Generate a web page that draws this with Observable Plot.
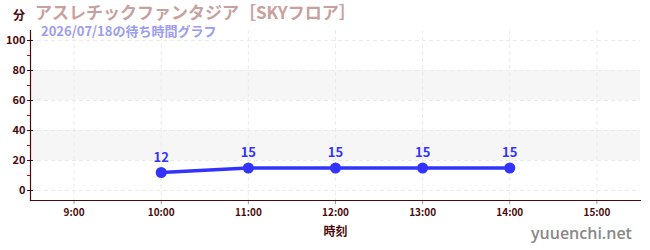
<!DOCTYPE html>
<html><head><meta charset="utf-8">
<script src="https://cdn.jsdelivr.net/npm/d3@7"></script>
<script src="https://cdn.jsdelivr.net/npm/@observablehq/plot@0.6"></script>
<style>
body{margin:0;background:#fff;font-family:"Noto Sans CJK JP","Noto Sans",sans-serif;}
#wrap{position:relative;width:650px;height:250px;overflow:hidden;}
.t{position:absolute;white-space:nowrap;font-weight:bold;line-height:1;}
</style></head>
<body><div id="wrap"></div>
<script>
const title = "アスレチックファンタジア［SKYフロア］";
const subtitle = "2026/07/18の待ち時間グラフ";
const unitLabel = "分";
const xLabel = "時刻";
const credit = "yuuenchi.net";
const hours = [10, 11, 12, 13, 14];
const waits = [12, 15, 15, 15, 15];
const xTicks = [9, 10, 11, 12, 13, 14, 15];
const yTicks = [0, 20, 40, 60, 80, 100];
const yMinor = [10, 30, 50, 70, 90];
const bands = [[20, 40], [60, 80]];
const xDomain = [8.5, 15.5];
const yDomain = [-6.67, 106.67];

const data = hours.map((h, i) => ({h, v: waits[i]}));
const dark = "#4a0a0a";
const blue = "#3333ff";

const chart = Plot.plot({
  width: 650, height: 250,
  marginLeft: 30, marginRight: 10, marginTop: 30, marginBottom: 50,
  style: {fontFamily: '"Noto Sans CJK JP","Noto Sans",sans-serif', background: "transparent"},
  x: {domain: xDomain},
  y: {domain: yDomain},
  marks: [
    Plot.rect(bands, {y1: d => d[0], y2: d => d[1], fill: "#f6f6f6"}),
    Plot.gridX(xTicks, {stroke: "#ebebeb", strokeOpacity: 1, strokeDasharray: "4 3"}),
    Plot.gridY(yTicks, {stroke: "#ebebeb", strokeOpacity: 1, strokeDasharray: "4 3"}),
    Plot.axisY({ticks: yMinor, tickSize: 3, tickFormat: () => "", stroke: "#e00000", label: null}),
    Plot.axisY({ticks: yTicks, tickSize: 3, tickPadding: 2, stroke: dark, fill: dark, fontSize: 11, fontWeight: "bold", label: null}),
    Plot.axisY({ticks: yTicks, tickSize: -3, tickFormat: () => "", stroke: dark, label: null}),
    Plot.axisX({ticks: xTicks, tickSize: 4, tickPadding: 4, stroke: "#999", fill: dark, fontSize: 10, fontWeight: "bold", tickFormat: d => d + ":00", label: null}),
    Plot.frame({anchor: "left", stroke: dark, strokeWidth: 1.2}),
    Plot.frame({anchor: "bottom", stroke: dark, strokeWidth: 1.2}),
    Plot.text([xLabel], {frameAnchor: "bottom", dy: 35, text: d => d, fill: dark, fontSize: 12, fontWeight: "bold"}),
    Plot.line(data, {x: "h", y: "v", stroke: blue, strokeWidth: 3.5}),
    Plot.dot(data, {x: "h", y: "v", fill: blue, r: 5.5}),
    Plot.text(data, {x: "h", y: "v", text: d => String(d.v), dy: -15, fill: blue, fontSize: 13, fontWeight: "bold"})
  ]
});
const wrap = document.getElementById("wrap");
wrap.appendChild(chart);
chart.style.position = "absolute"; chart.style.left = "0"; chart.style.top = "0";

function addText(txt, css) {
  const d = document.createElement("div");
  d.className = "t"; d.textContent = txt;
  Object.assign(d.style, css);
  wrap.appendChild(d);
}
addText(unitLabel, {left: "13px", top: "9px", fontSize: "12px", color: dark});
addText(title, {left: "35px", top: "3px", fontSize: "17px", color: "#c8a0a0"});
addText(subtitle, {left: "41px", top: "24px", fontSize: "13px", color: "#9c9cf2"});
addText(credit, {left: "531px", top: "225px", fontSize: "16px", color: "#888", fontWeight: "600", fontFamily: '"Open Sans",sans-serif'});
</script></body></html>
